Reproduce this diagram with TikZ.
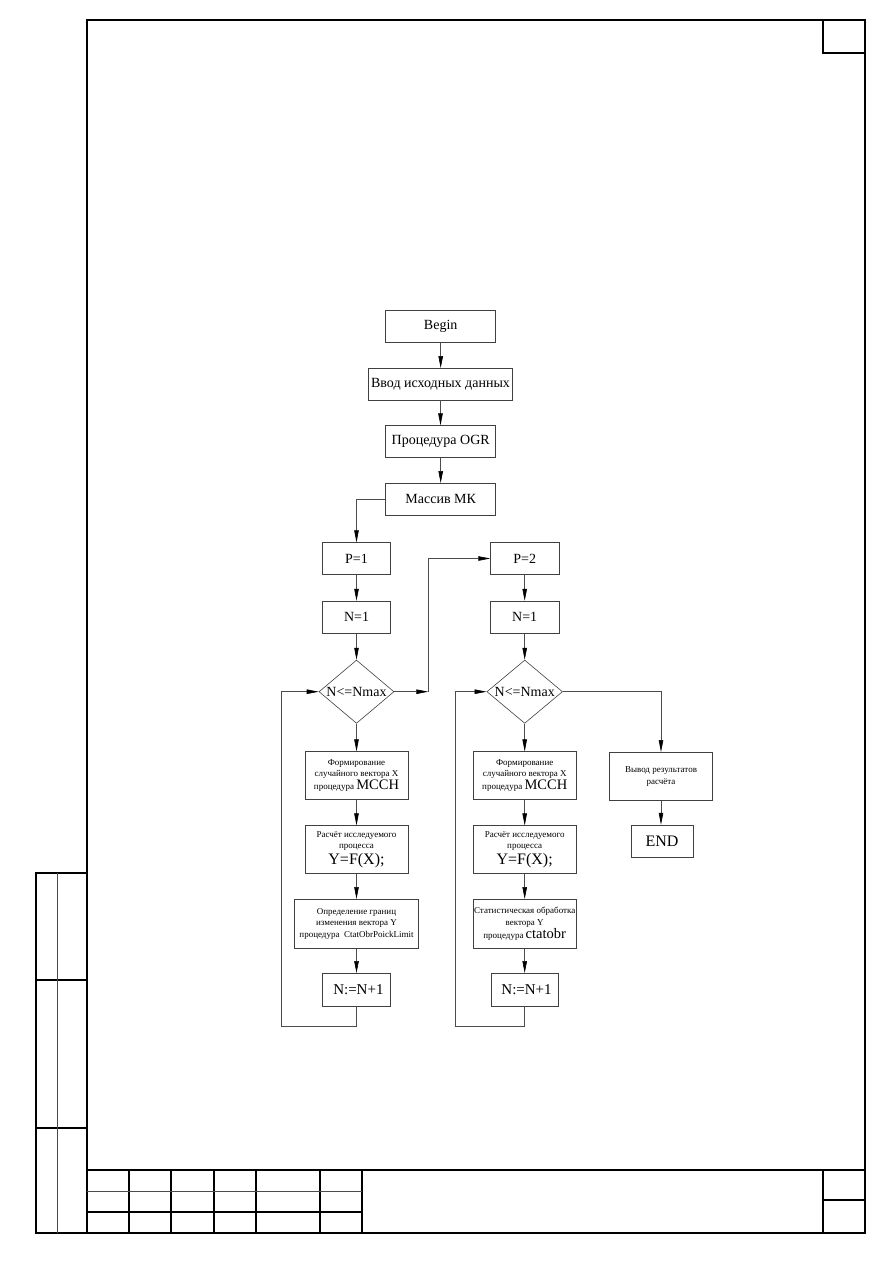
\documentclass[tikz,border=0pt]{standalone}
\usepackage{fontspec}
\setmainfont{Liberation Serif}
\usetikzlibrary{arrows.meta,shapes.geometric}
\begin{document}
\begin{tikzpicture}[x=1pt,y=-1pt,
  fl/.style={draw=black!75, line width=0.6pt},
  blk/.style={fl, rectangle, inner sep=0pt, align=center, font=\fontsize{14}{16}\selectfont},
  sml/.style={blk, font=\fontsize{9}{11.5}\selectfont},
  dia/.style={fl, diamond, inner sep=0pt, font=\fontsize{14}{16}\selectfont},
  arr/.style={draw=black!70, line width=0.6pt, -{Triangle[length=12pt,width=4.5pt,color=black]}},
  thk/.style={line width=1.8pt, line cap=rect},
  thn/.style={line width=1pt, draw=black!70},
]
\useasboundingbox (0,0) rectangle (893,1263);

% ---------- frame ----------
\draw[thk] (86.7,20) rectangle (865,1233);
\draw[line width=1.5pt] (823,20) rectangle (865,53);
% side strip
\draw[thk] (86.7,873.3) -- (35.7,873.3) -- (35.7,1233) -- (86.7,1233);
\draw[thk] (35.7,980) -- (86.7,980);
\draw[thk] (35.7,1127.7) -- (86.7,1127.7);
\draw[thn] (57.3,873.3) -- (57.3,1233);
% title block
\draw[thk] (86.7,1170) -- (865,1170);
\foreach \xx in {129,171,213.7,255.7,320,361.7}
  \draw[thk] (\xx,1170) -- (\xx,1233);
\draw[thn] (86.7,1191) -- (361.7,1191);
\draw[thk] (86.7,1211.7) -- (361.7,1211.7);
\draw[thk] (823.3,1170) -- (823.3,1233);
\draw[thk] (823.3,1200) -- (865,1200);

% ---------- flowchart ----------
\node[blk, minimum width=110pt, minimum height=32.3pt] (begin) at (440.7,326.2) {Begin};
\node[blk, minimum width=144.4pt, minimum height=31.7pt] (input) at (440.5,384.2) {Ввод исходных данных};
\node[blk, minimum width=110pt, minimum height=31.6pt] (ogr) at (440.7,441.5) {Процедура OGR};
\node[blk, minimum width=110pt, minimum height=31.7pt] (mk) at (440.7,499.2) {Массив МК};

% left column
\node[blk, minimum width=68.4pt, minimum height=31.6pt] (p1) at (356.5,558.5) {P=1};
\node[blk, minimum width=68.4pt, minimum height=32.3pt] (n1a) at (356.5,617.2) {N=1};
\node[dia, minimum width=75pt, minimum height=63.3pt] (d1) at (356.5,691.7) {\makebox[0pt]{N<=Nmax}};
\node[sml, minimum width=103.3pt, minimum height=47.6pt] (fa) at (356.5,775.5)
  {Формирование\\случайного вектора X\\процедура {\fontsize{14.5}{14.5}\selectfont MCCH}};
\node[sml, minimum width=103.3pt, minimum height=47.6pt] (ra) at (356.5,849.5)
  {Расчёт исследуемого\\процесса\\[1pt]{\fontsize{16}{16}\selectfont Y=F(X);}};
\node[sml, minimum width=124.3pt, minimum height=49pt] (oa) at (356.5,923.8)
  {Определение границ\\изменения вектора Y\\процедура\ \ CtatObrPoickLimit};
\node[blk, minimum width=68.4pt, minimum height=32.7pt, font=\fontsize{15}{17}\selectfont] (inca) at (356.5,989.7) {\ N:=N+1};

% right column
\node[blk, minimum width=68.3pt, minimum height=31.6pt] (p2) at (524.7,558.5) {P=2};
\node[blk, minimum width=68.3pt, minimum height=32.3pt] (n1b) at (524.7,617.2) {N=1};
\node[dia, minimum width=75.6pt, minimum height=63.3pt] (d2) at (524.7,691.7) {\makebox[0pt]{N<=Nmax}};
\node[sml, minimum width=102.7pt, minimum height=47.6pt] (fb) at (524.7,775.5)
  {Формирование\\случайного вектора X\\процедура {\fontsize{14.5}{14.5}\selectfont MCCH}};
\node[sml, minimum width=102.7pt, minimum height=47.6pt] (rb) at (524.7,849.5)
  {Расчёт исследуемого\\процесса\\[1pt]{\fontsize{16}{16}\selectfont Y=F(X);}};
\node[sml, minimum width=103.4pt, minimum height=49pt] (sb) at (524.7,923.8)
  {Статистическая обработка\\вектора Y\\процедура {\fontsize{14.5}{14.5}\selectfont ctatobr}};
\node[blk, minimum width=67.6pt, minimum height=32.7pt, font=\fontsize{15}{17}\selectfont] (incb) at (524.7,989.7) {\ N:=N+1};

% output column
\node[sml, minimum width=103.4pt, minimum height=48.4pt] (out) at (661,776.5)
  {Вывод результатов\\расчёта};
\node[blk, minimum width=62pt, minimum height=32.3pt, font=\fontsize{16}{18}\selectfont] (end) at (662,841.2) {END};

% helper coordinates
\coordinate (c1) at (428.3,691.7);
\coordinate (la) at (281,1026.7);
\coordinate (lb) at (455.7,1026.7);

% connectors
\draw[arr] (begin.south) -- (begin.south |- input.north);
\draw[arr] (input.south) -- (input.south |- ogr.north);
\draw[arr] (ogr.south) -- (ogr.south |- mk.north);
\draw[arr] (mk.west) -| (p1.north);

\draw[arr] (p1) -- (n1a);
\draw[arr] (n1a) -- (d1);
\draw[arr] (d1) -- (fa);
\draw[arr] (fa) -- (ra);
\draw[arr] (ra) -- (oa);
\draw[arr] (oa) -- (inca);
\draw[arr] (inca.south) |- (la) |- (d1.west);
\draw[arr] (d1.east) -- (c1);
\draw[arr] (c1) |- (p2.west);

\draw[arr] (p2) -- (n1b);
\draw[arr] (n1b) -- (d2);
\draw[arr] (d2) -- (fb);
\draw[arr] (fb) -- (rb);
\draw[arr] (rb) -- (sb);
\draw[arr] (sb) -- (incb);
\draw[arr] (incb.south) |- (lb) |- (d2.west);
\draw[arr] (d2.east) -| (out.north);
\draw[arr] (out.south) -- (out.south |- end.north);
\end{tikzpicture}
\end{document}
